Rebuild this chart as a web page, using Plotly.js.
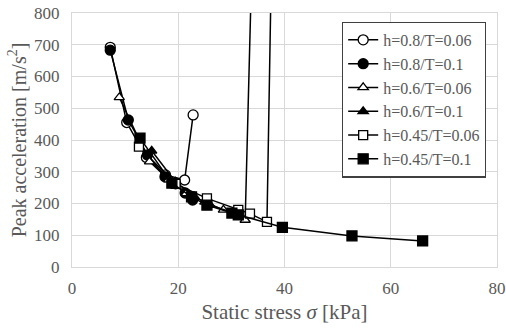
<!DOCTYPE html>
<html>
<head>
<meta charset="utf-8">
<script src="https://cdn.plot.ly/plotly-3.0.1.min.js"></script>
<style>html,body{margin:0;padding:0;background:#fff;}#chart{width:506px;height:328px;}</style>
</head>
<body>
<div id="chart"></div>
<script>
// Series data (static stress [kPa], peak acceleration [m/s^2])
const seriesNames = ["h=0.8/T=0.06","h=0.8/T=0.1","h=0.6/T=0.06","h=0.6/T=0.1","h=0.45/T=0.06","h=0.45/T=0.1"];

const x_h08_T006 = [7.2, 10.3, 14.0, 17.6, 21.2, 22.8];
const y_h08_T006 = [692, 455, 345, 290, 274, 479];

const x_h08_T01 = [7.2, 10.6, 14.2, 17.5, 19.5, 21.3, 22.7];
const y_h08_T01 = [683, 463, 353, 284, 262, 233, 211];

const x_h06_T006 = [8.9, 14.6, 18.2, 21.5, 25.0, 28.5, 32.6, 34.7];
const y_h06_T006 = [534, 332, 275, 232, 205, 180, 148, 1500];

const x_h06_T01 = [15.0, 19.5, 23.0, 26.0, 30.5];
const y_h06_T01 = [366, 268, 222, 195, 170];

const x_h045_T006 = [12.6, 19.5, 25.4, 31.3, 33.5, 36.7, 38.1];
const y_h045_T006 = [379, 262, 216, 180, 168, 142, 1500];

const x_h045_T01 = [12.8, 18.8, 22.5, 25.4, 30.1, 31.3, 39.6, 52.7, 66.0];
const y_h045_T01 = [406, 264, 221, 195, 170, 164, 125, 98, 82];

const xTicks = [0, 20, 40, 60, 80];
const yTicks = [0, 100, 200, 300, 400, 500, 600, 700, 800];

const xs = [x_h08_T006, x_h08_T01, x_h06_T006, x_h06_T01, x_h045_T006, x_h045_T01];
const ys = [y_h08_T006, y_h08_T01, y_h06_T006, y_h06_T01, y_h045_T006, y_h045_T01];
const symbols = ["circle","circle","triangle-up","triangle-up","square","square"];
const openMarker = [true, false, true, false, true, false];
const sizes = [10, 10, 9, 9, 9, 10];

const traces = seriesNames.map((n, i) => ({
  x: xs[i], y: ys[i], name: n, type: "scatter", mode: "lines+markers",
  legendgroup: "g" + i,
  line: {color: "#000", width: 1.5},
  marker: {symbol: symbols[i], size: sizes[i], color: openMarker[i] ? "#fff" : "#000",
           line: {color: "#000", width: 1.3}},
  cliponaxis: true
}));

const serif = "Liberation Serif";
const grey = "#595959";

const layout = {
  width: 506, height: 328,
  margin: {l: 72, r: 9, t: 13, b: 61},
  paper_bgcolor: "#fff", plot_bgcolor: "#fff",
  font: {family: serif, color: grey, size: 16},
  showlegend: true,
  legend: {
    x: 0.635, y: 0.966, xanchor: "left", yanchor: "top",
    bgcolor: "#fff", bordercolor: "#404040", borderwidth: 1.3,
    font: {family: serif, color: grey, size: 16},
    tracegroupgap: 0, itemwidth: 30
  },
  xaxis: {
    range: [0, 80], tickvals: xTicks, ticktext: xTicks.map(String),
    showgrid: true, gridcolor: "#d9d9d9", gridwidth: 1,
    showline: true, linecolor: "#d9d9d9", linewidth: 1, mirror: true,
    zeroline: false, ticks: "outside", ticklen: 6, tickcolor: "rgba(0,0,0,0)",
    tickfont: {family: serif, color: grey, size: 17},
    title: {text: "Static stress <i>σ</i> [kPa]", font: {family: serif, color: grey, size: 21}, standoff: 6}
  },
  yaxis: {
    range: [0, 800], tickvals: yTicks, ticktext: yTicks.map(String),
    showgrid: true, gridcolor: "#d9d9d9", gridwidth: 1,
    showline: true, linecolor: "#d9d9d9", linewidth: 1, mirror: true,
    zeroline: false, ticks: "outside", ticklen: 8, tickcolor: "rgba(0,0,0,0)",
    tickfont: {family: serif, color: grey, size: 17},
    title: {text: "Peak acceleration [m/s<sup>2</sup>]", font: {family: serif, color: grey, size: 20}, standoff: 2}
  }
};

Plotly.newPlot("chart", traces, layout, {displayModeBar: false, staticPlot: true});
</script>
</body>
</html>
